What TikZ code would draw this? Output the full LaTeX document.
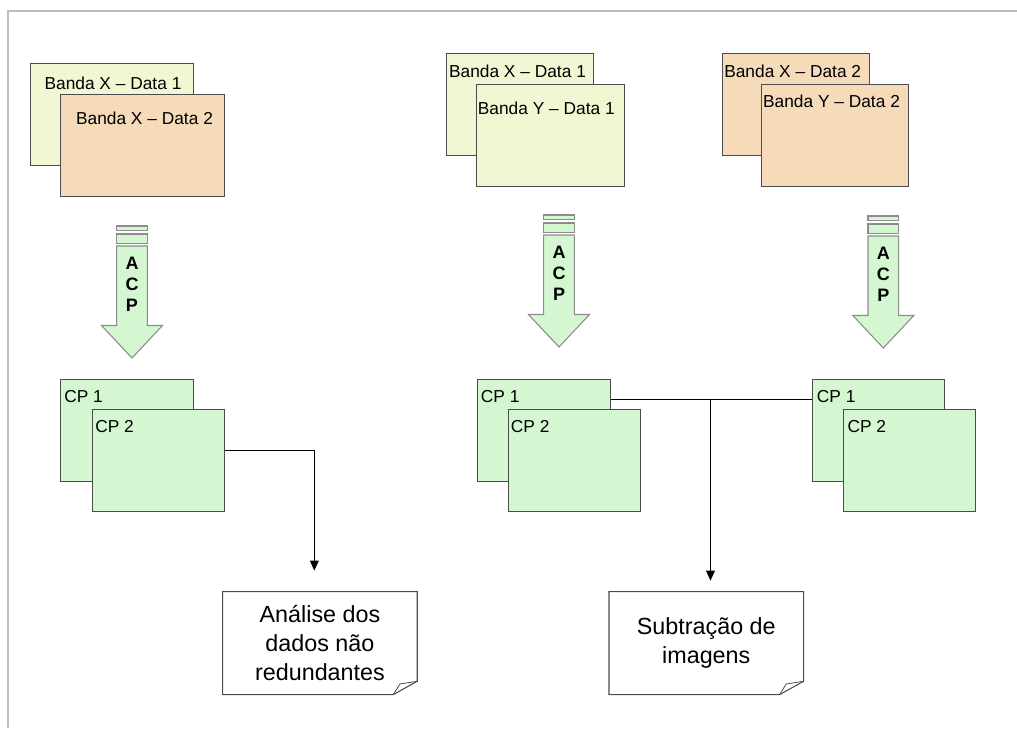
\documentclass[tikz,border=0pt]{standalone}
\usepackage{fontspec}
\setmainfont{Liberation Sans}
\usetikzlibrary{arrows.meta, positioning, calc}
\definecolor{sheetyellow}{RGB}{240, 247, 210}
\definecolor{sheetpeach}{RGB}{246, 219, 187}
\definecolor{sheetgreen}{RGB}{212, 247, 210}
\definecolor{framegray}{RGB}{190, 190, 190}

\begin{document}
\begin{tikzpicture}[x=0.75pt, y=-0.75pt,
  sheet/.style={draw=black!70, line width=0.8pt, fill=#1, anchor=north west, minimum height=76.5pt, inner sep=0pt},
  lbl/.style={font=\fontsize{13}{15}\selectfont, inner sep=0pt},
  notebox/.style={anchor=north west, minimum width=145.5pt, minimum height=76.8pt, align=center, font=\fontsize{17.5}{21.75}\selectfont, inner sep=0pt},
  noteline/.style={draw=black!70, line width=0.8pt},
  conn/.style={line width=0.8pt, -{Triangle[length=7.5pt, width=6.5pt]}},
  acp/.style={draw=black!45, line width=0.8pt, fill=sheetgreen},
]
  \useasboundingbox (0,0) rectangle (1017,728);
  \draw[framegray, line width=1.5pt] (8,728) -- (8,11) -- (1017,11);

  % Bandas
  \node[sheet=sheetyellow, minimum width=122.3pt] (xa1) at (30,63) {};
  \node[lbl] (txa1) at (113,83) {Banda X – Data 1};
  \node[sheet=sheetpeach, minimum width=123pt] (xa2) at (60,94) {};
  \node[lbl] (txa2) at (144.5,118) {Banda X – Data 2};

  \node[sheet=sheetyellow, minimum width=110.5pt] (xb1) at (445.7,53) {};
  \node[lbl] (txb1) at (517.5,71.7) {Banda X – Data 1};
  \node[sheet=sheetyellow, minimum width=111pt] (yb1) at (475.7,83.7) {};
  \node[lbl] (tyb1) at (546.3,108.7) {Banda Y – Data 1};

  \node[sheet=sheetpeach, minimum width=110.5pt] (xc2) at (721.7,53) {};
  \node[lbl] (txc2) at (792.7,71.7) {Banda X – Data 2};
  \node[sheet=sheetpeach, minimum width=110.7pt] (yc2) at (760.7,83.7) {};
  \node[lbl] (tyc2) at (831.5,101.7) {Banda Y – Data 2};

  % ACP arrows
  \foreach \ax/\ay/\n in {132/226/a, 559/215/b, 883.3/216/c} {
    \draw[acp] ({\ax-15.3},\ay) rectangle ({\ax+15.3},{\ay+4.5});
    \draw[acp] ({\ax-15.3},{\ay+8}) rectangle ({\ax+15.3},{\ay+17.5});
    \draw[acp] ({\ax-15.3},{\ay+20}) -- ({\ax+15.3},{\ay+20}) -- ({\ax+15.3},{\ay+99.5})
      -- ({\ax+30.5},{\ay+99.5}) -- (\ax,{\ay+132}) -- ({\ax-30.5},{\ay+99.5})
      -- ({\ax-15.3},{\ay+99.5}) -- cycle;
    \node[font=\bfseries\fontsize{13.5}{15.75}\selectfont, align=center, inner sep=0pt] (acp\n) at (\ax,{\ay+58}) {A\\C\\P};
  }

  % CPs
  \node[sheet=sheetgreen, minimum width=99.3pt] (cp1a) at (60.3,379) {};
  \node[lbl, anchor=west] (tcp1a) at (64,396.7) {CP 1};
  \node[sheet=sheetgreen, minimum width=99pt] (cp2a) at (91.7,409.3) {};
  \node[lbl, anchor=west] (tcp2a) at (95,426.7) {CP 2};

  \node[sheet=sheetgreen, minimum width=99.3pt] (cp1b) at (477.3,379) {};
  \node[lbl, anchor=west] (tcp1b) at (480.7,396.7) {CP 1};
  \node[sheet=sheetgreen, minimum width=99.5pt] (cp2b) at (507.7,409.3) {};
  \node[lbl, anchor=west] (tcp2b) at (510.7,426.7) {CP 2};

  \node[sheet=sheetgreen, minimum width=99pt] (cp1c) at (812,379) {};
  \node[lbl, anchor=west] (tcp1c) at (816.7,396.7) {CP 1};
  \node[sheet=sheetgreen, minimum width=99pt] (cp2c) at (843.3,409.3) {};
  \node[lbl, anchor=west] (tcp2c) at (847.3,426.7) {CP 2};

  % Notes
  \node[notebox] (note1) at (222.7,591.7) {Análise dos\\dados não\\redundantes};
  \node[notebox] (note2) at (609,591.7) {Subtração de\\imagens};
  \foreach \nt in {note1, note2} {
    \draw[noteline] (\nt.north west) -- (\nt.north east) -- ([yshift=10pt]\nt.south east)
      -- ([xshift=-18pt]\nt.south east) -- (\nt.south west) -- cycle;
    \draw[noteline, line width=0.6pt] ([xshift=-18pt]\nt.south east)
      .. controls ([xshift=-15.5pt, yshift=4pt]\nt.south east) .. ([xshift=-13pt, yshift=8pt]\nt.south east)
      -- ([yshift=10pt]\nt.south east);
  }

  % Connectors
  \coordinate (tipa) at (314.3,570.7);
  \coordinate (mid) at (710.5,399);
  \coordinate (tipb) at (710.5,580.7);
  \draw[conn] ([yshift=8pt]cp2a.east) -| (tipa);
  \draw[line width=0.8pt] ([yshift=23pt]cp1b.east) -- ([yshift=23pt]cp1c.west);
  \draw[conn] (mid) -- (tipb);
\end{tikzpicture}
\end{document}
